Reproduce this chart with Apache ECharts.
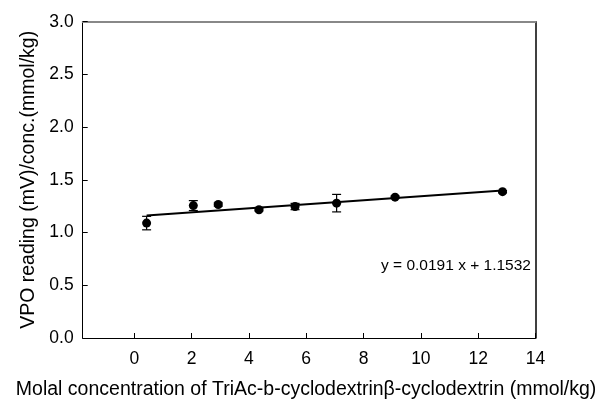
<!DOCTYPE html>
<html>
<head>
<meta charset="utf-8">
<script src="https://cdn.jsdelivr.net/npm/echarts@6/dist/echarts.min.js"></script>
<style>html,body{margin:0;padding:0;background:#fff;}#c{width:609px;height:405px;}</style>
</head>
<body>
<div id="c"></div>
<script>
// Data
var xValues = [0.43, 2.06, 2.93, 4.35, 5.61, 7.06, 9.10, 12.85];
var yValues = [1.090, 1.256, 1.266, 1.216, 1.247, 1.279, 1.336, 1.388];
var yErrors = [0.064, 0.047, 0.015, 0.010, 0.030, 0.083, 0.010, 0.010];
var fitLine = [[0.43, 1.161], [12.85, 1.399]];
var fitLabel = 'y = 0.0191 x + 1.1532';
var xTicks = [0, 2, 4, 6, 8, 10, 12, 14];
var xName = 'Molal concentration of TriAc-b-cyclodextrin\u03B2-cyclodextrin (mmol/kg)';
var yName = 'VPO reading (mV)/conc.(mmol/kg)';

var FONT = 'Liberation Sans, Arial, sans-serif';
var points = xValues.map(function (x, i) { return [x, yValues[i]]; });
var errData = xValues.map(function (x, i) { return [x, yValues[i] - yErrors[i], yValues[i] + yErrors[i]]; });

var chart = echarts.init(document.getElementById('c'), null, {renderer: 'canvas'});
chart.setOption({
  animation: false,
  backgroundColor: '#fff',
  grid: {left: 82.7, right: 73.5, top: 21.7, bottom: 65, containLabel: false},
  xAxis: [{
    type: 'value', min: -1.8, max: 14, position: 'bottom',
    name: xName, nameLocation: 'middle', nameGap: 42,
    nameTextStyle: {fontFamily: FONT, fontSize: 19.5, color: '#000', padding: [0, 6, 0, 0]},
    axisLine: {show: true, onZero: false, lineStyle: {color: '#000', width: 1}},
    axisTick: {show: true, inside: true, length: 5, customValues: xTicks, lineStyle: {color: '#000'}},
    axisLabel: {customValues: xTicks, fontFamily: FONT, fontSize: 17.5, color: '#000', margin: 12},
    splitLine: {show: false}
  }, {
    type: 'value', min: -1.8, max: 14, position: 'top',
    axisLine: {show: true, onZero: false, lineStyle: {color: '#888', width: 2}},
    axisTick: {show: false}, axisLabel: {show: false}, splitLine: {show: false}
  }],
  yAxis: [{
    type: 'value', min: 0, max: 3, interval: 0.5, position: 'left',
    name: yName, nameLocation: 'middle', nameGap: 43,
    nameTextStyle: {fontFamily: FONT, fontSize: 19.5, color: '#000'},
    axisLine: {show: true, onZero: false, lineStyle: {color: '#000', width: 1}},
    axisTick: {show: true, inside: true, length: 5, lineStyle: {color: '#000'}},
    axisLabel: {fontFamily: FONT, fontSize: 17.5, color: '#000', margin: 9,
      formatter: function (v) { return v.toFixed(1); }},
    splitLine: {show: false}
  }, {
    type: 'value', min: 0, max: 3, position: 'right',
    axisLine: {show: true, onZero: false, lineStyle: {color: '#000', width: 1.5}},
    axisTick: {show: false}, axisLabel: {show: false}, splitLine: {show: false}
  }],
  series: [{
    type: 'line', data: fitLine, symbol: 'none',
    lineStyle: {color: '#000', width: 2}, z: 2
  }, {
    type: 'custom', data: errData, z: 3,
    renderItem: function (params, api) {
      var x = api.value(0);
      var lo = api.coord([x, api.value(1)]);
      var hi = api.coord([x, api.value(2)]);
      var hw = 4.5;
      var st = {stroke: '#000', lineWidth: 1.2};
      return {type: 'group', children: [
        {type: 'line', shape: {x1: lo[0], y1: lo[1], x2: hi[0], y2: hi[1]}, style: st},
        {type: 'line', shape: {x1: lo[0] - hw, y1: lo[1], x2: lo[0] + hw, y2: lo[1]}, style: st},
        {type: 'line', shape: {x1: hi[0] - hw, y1: hi[1], x2: hi[0] + hw, y2: hi[1]}, style: st}
      ]};
    }
  }, {
    type: 'scatter', data: points, symbol: 'circle', symbolSize: 9,
    itemStyle: {color: '#000', opacity: 1}, z: 4
  }],
  graphic: [{
    type: 'text', left: 381, top: 258,
    style: {text: fitLabel, font: '15.5px ' + FONT, fill: '#000'}
  }]
});
</script>
</body>
</html>
